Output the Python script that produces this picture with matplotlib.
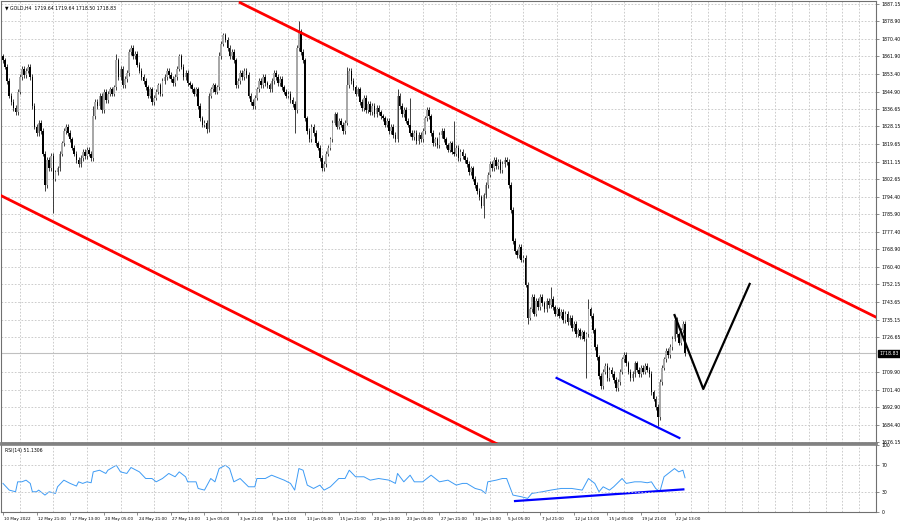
import numpy as np
import matplotlib
matplotlib.use('Agg')
import matplotlib.pyplot as plt
import matplotlib.transforms as mtransforms

# GOLD H4 closes (one per bar)
closes = [
    1860, 1857, 1850, 1843, 1840, 1837, 1835, 1845, 1852, 1856,
    1853, 1855, 1857, 1852, 1838, 1828, 1825, 1830, 1826, 1815,
    1800, 1812, 1808, 1814, 1803, 1806, 1808, 1815, 1820, 1826,
    1828, 1825, 1822, 1818, 1815, 1812, 1810, 1813, 1816, 1814,
    1817, 1815, 1813, 1833, 1840, 1838, 1843, 1836, 1845, 1841,
    1844, 1846, 1844, 1847, 1860, 1852, 1856, 1848, 1851, 1854,
    1864, 1866, 1862, 1863, 1858, 1855, 1852, 1850, 1847, 1843,
    1846, 1840, 1842, 1845, 1848, 1844, 1850, 1852, 1855, 1853,
    1851, 1849, 1852, 1856, 1862, 1857, 1852, 1854, 1849, 1848,
    1846, 1844, 1846, 1838, 1832, 1829, 1830, 1827, 1843, 1846,
    1848, 1845, 1847, 1862, 1868, 1872, 1870, 1866, 1862, 1864,
    1860, 1848, 1850, 1854, 1852, 1855, 1853, 1843, 1840, 1838,
    1842, 1846, 1850, 1848, 1852, 1849, 1848, 1846, 1850, 1854,
    1852, 1849, 1851, 1847, 1845, 1843, 1844, 1841, 1839, 1836,
    1866, 1874, 1864, 1860, 1832, 1826, 1822, 1828, 1825, 1820,
    1818, 1813, 1808, 1810, 1815, 1818, 1822, 1830, 1834, 1828,
    1831, 1829, 1826, 1830, 1848, 1855, 1850, 1847, 1844, 1846,
    1840, 1837, 1842, 1836, 1839, 1835, 1838, 1834, 1837, 1835,
    1833, 1832, 1829, 1831, 1826, 1828, 1824, 1822, 1843, 1838,
    1834, 1836, 1831, 1829, 1825, 1823, 1825, 1821, 1824, 1822,
    1826, 1832, 1836, 1833, 1825, 1820, 1822, 1819, 1824, 1826,
    1822, 1819, 1817, 1820, 1816, 1815, 1818, 1813, 1816, 1814,
    1812, 1810, 1806, 1808, 1803, 1800, 1797, 1794, 1790, 1795,
    1800, 1805, 1810, 1808, 1812, 1809, 1811, 1807, 1810, 1812,
    1811, 1800, 1788, 1773, 1768, 1766, 1770, 1764, 1765, 1752,
    1736, 1740, 1746, 1738, 1744, 1741, 1746, 1743, 1740, 1744,
    1742, 1745, 1741, 1738, 1740, 1737, 1739, 1735, 1738, 1734,
    1736, 1731, 1733, 1728, 1730, 1727, 1729, 1726, 1728, 1740,
    1737, 1730, 1722, 1717, 1708, 1703, 1710, 1713, 1707, 1711,
    1709, 1706, 1702, 1705, 1710, 1716, 1718, 1714, 1710, 1707,
    1709, 1714, 1711, 1709, 1712, 1710, 1713, 1711, 1709, 1700,
    1697, 1693, 1688, 1705, 1712, 1716, 1720, 1718, 1722, 1726,
    1735, 1728, 1724, 1730, 1733, 1718.83,
]
first_open = 1862
spike_high = {43: 1838, 54: 1863, 103: 1864, 141: 1879, 164: 1857, 188: 1846,
              194: 1842, 215: 1831, 261: 1751, 279: 1745, 320: 1737.5}
spike_low = {20: 1797, 24: 1786.5, 97: 1825, 139: 1825, 229: 1784, 250: 1733,
             278: 1707, 312: 1684}

# RSI(14): bar index, value
rsi_bar = [0, 3, 6, 7, 9, 11, 13, 14, 16, 17, 20, 22, 25, 26, 29, 32, 35, 36, 38, 40,
           42, 43, 46, 49, 50, 54, 56, 59, 61, 65, 68, 71, 73, 76, 79, 82, 84, 87, 88, 92,
           93, 96, 99, 101, 103, 106, 108, 110, 113, 117, 120, 121, 125, 128, 132, 134, 137, 139, 141, 143,
           145, 148, 151, 153, 156, 160, 163, 165, 168, 172, 175, 179, 184, 187, 188, 191, 194, 196, 200, 204,
           208, 212, 216, 219, 221, 225, 228, 230, 231, 235, 238, 240, 243, 247, 250, 252, 257, 261, 266, 271,
           276, 279, 281, 282, 284, 286, 289, 291, 295, 297, 301, 304, 307, 309, 311, 313, 315, 317, 320, 322,
           324, 325]
rsi_val = [42.6, 32.5, 30, 45, 45, 47.5, 42.6, 30, 30, 32.5, 25, 30, 27.5, 37.5, 47.5, 42.6, 38.6, 45, 42.6, 45,
           43.6, 60, 62.5, 57.6, 62.5, 70, 60, 57.6, 66.6, 60, 50, 50, 45, 50, 57.6, 52.6, 60, 52.6, 45, 45,
           35, 32.5, 50, 45, 65, 70, 65, 45, 50, 37.5, 37.5, 50, 50, 55, 50, 47.5, 42.6, 32.5, 65, 62.5,
           40, 35, 40, 32.5, 37.5, 50, 50, 62.5, 52.6, 52.6, 47.5, 50, 47.5, 42.6, 57.6, 45, 55, 45, 45, 55,
           45, 47.5, 40, 42.6, 42.6, 35, 32.5, 27.5, 45, 47.5, 50, 50, 25, 22.5, 20, 27.5, 30, 32.5, 35, 35,
           32.5, 50, 45, 42.6, 30, 37.5, 32.5, 37.5, 50, 42.6, 45, 45, 43.6, 45, 35, 30, 52.6, 57.6, 65, 60,
           62.5, 51.13]

# trend lines (bar index, price)
upper_red = ([113, 430], [1887.8, 1729.3])
lower_red = ([-5, 240], [1796.9, 1672.9])
blue_main = ([263.8, 322.3], [1707.0, 1678.1])
projection = ([320, 333.7, 355.8], [1737.3, 1701.7, 1752.3])
rsi_blue = ([244, 324.2], [16, 33.6])

price_ticks = [1887.15, 1878.90, 1870.40, 1861.90, 1853.40, 1844.90, 1836.65, 1828.15,
               1819.65, 1811.15, 1802.65, 1794.40, 1785.90, 1777.40, 1768.90, 1760.40,
               1752.15, 1743.65, 1735.15, 1726.65, 1709.90, 1701.40, 1692.90, 1684.40, 1676.15]
date_labels = ['10 May 2022', '12 May 21:00', '17 May 13:00', '20 May 05:00', '24 May 21:00',
               '27 May 13:00', '1 Jun 05:00', '3 Jun 21:00', '8 Jun 13:00', '13 Jun 05:00',
               '15 Jun 21:00', '20 Jun 13:00', '23 Jun 05:00', '27 Jun 21:00', '30 Jun 13:00',
               '5 Jul 05:00', '7 Jul 21:00', '12 Jul 13:00', '15 Jul 05:00', '19 Jul 21:00',
               '22 Jul 13:00']
last_price = 1718.83

plt.rcParams['font.family'] = ['DejaVu Sans']
fs = 3.3
fs_x = 3.0
grid_kw = dict(color='#c4c4c4', linestyle=(0, (2, 2)), linewidth=0.6)

W, H = 900, 523
fig = plt.figure(figsize=(W / 100, H / 100), dpi=100)
ax = fig.add_axes([1 / W, 1 - 443 / H, 875 / W, 442 / H])
ax2 = fig.add_axes([1 / W, 1 - 512 / H, 875 / W, 67 / H], sharex=ax)

px_per_bar = 2.119
ax.set_xlim((1 - 3) / px_per_bar, (876 - 3) / px_per_bar)
ax.set_ylim(1675.67, 1888.6)
ax2.set_ylim(-0.5, 100.5)

closes = np.array(closes, dtype=float)
idx = np.arange(len(closes))
opens = np.concatenate([[first_open], closes[:-1]])
wick = 1.3
highs = np.maximum(opens, closes) + wick
lows = np.minimum(opens, closes) - wick
for k, v in spike_high.items():
    highs[k] = max(highs[k], v)
for k, v in spike_low.items():
    lows[k] = min(lows[k], v)

ax.set_axisbelow(True)
ax.axhline(last_price, color='#c0c0c0', lw=0.8, zorder=1)
up = closes >= opens
ax.vlines(idx, lows, highs, color='#202020', lw=0.6, zorder=2)
ax.bar(idx[up], (closes - opens)[up], bottom=opens[up], width=0.8, color='#a8a8a8', zorder=3)
ax.bar(idx[~up], (closes - opens)[~up], bottom=opens[~up], width=0.8, color='black', zorder=3)

ax.plot(*upper_red, color='#ff0000', lw=2, zorder=4)
ax.plot(*lower_red, color='#ff0000', lw=2, zorder=4)
ax.plot(*blue_main, color='#0000ff', lw=1.6, zorder=4)
ax.plot(*projection, color='black', lw=1.6, zorder=4)

ax2.plot(rsi_bar, rsi_val, color='#3d9bf5', lw=0.7)
ax2.plot(*rsi_blue, color='#0000ff', lw=1.6)

# grids
minor_x = np.arange(0, 420, 8)
for a in (ax, ax2):
    a.set_xticks(minor_x, minor=True)
    a.grid(True, which='minor', axis='x', **grid_kw)
    a.set_facecolor('white')
ax.set_yticks(price_ticks)
ax.grid(True, which='major', axis='y', **grid_kw)
for lvl in (70, 30):
    ax2.axhline(lvl, **grid_kw)

# axes / labels
ax.yaxis.tick_right()
ax.set_yticklabels(['%.2f' % p for p in price_ticks])
ax2.yaxis.tick_right()
ax2.set_yticks([100, 70, 30, 0])
ax2.set_yticklabels(['100', '70', '30', '0'])
for a in (ax, ax2):
    a.tick_params(axis='y', which='major', labelsize=fs, length=2.5, width=0.5, pad=1.5,
                  color='#606060')
    a.tick_params(axis='x', which='minor', length=0)
ax.tick_params(axis='x', which='major', length=0, labelbottom=False)
ax2.set_xticks(np.arange(len(date_labels)) * 16)
ax2.set_xticklabels(date_labels)
ax2.tick_params(axis='x', which='major', labelsize=fs_x, length=2.5, width=0.5, pad=1.2,
                color='#606060')
for lbl in ax2.get_xticklabels():
    lbl.set_ha('left')
    lbl.set_transform(lbl.get_transform() + mtransforms.ScaledTranslation(1.5 / 100, 0, fig.dpi_scale_trans))

for a in (ax, ax2):
    for s in a.spines.values():
        s.set_color('#707070')
        s.set_linewidth(0.8)
ax.spines['bottom'].set_linewidth(2)
ax.spines['bottom'].set_color('#808080')
ax2.spines['top'].set_linewidth(1.2)
ax2.spines['top'].set_color('#808080')

# current price box
trans = mtransforms.blended_transform_factory(ax.transAxes, ax.transData)
ax.text(1.004, last_price, '%.2f' % last_price, transform=trans, fontsize=fs, color='white',
        va='center', ha='left', bbox=dict(facecolor='black', edgecolor='black', pad=0.8),
        clip_on=False, zorder=10)

ax.text(4 / 875, 1 - 4 / 442, '\u25bc GOLD,H4  1719.64 1719.64 1718.50 1718.83',
        transform=ax.transAxes, fontsize=fs, va='top', ha='left', color='black')
ax2.text(4 / 875, 1 - 3 / 67, 'RSI(14) 51.1306', transform=ax2.transAxes, fontsize=fs,
         va='top', ha='left', color='black')

fig.savefig('out.png', dpi=100, facecolor='white')
